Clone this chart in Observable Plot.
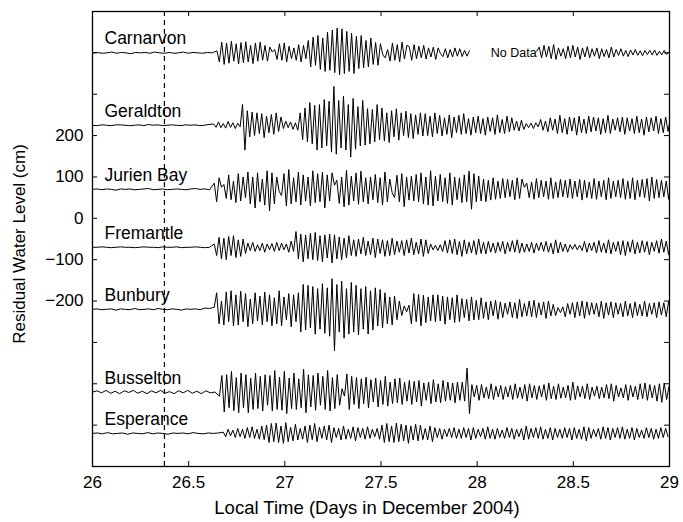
<!DOCTYPE html>
<html><head><meta charset="utf-8">
<script src="https://cdn.jsdelivr.net/npm/d3@7"></script>
<script src="https://cdn.jsdelivr.net/npm/@observablehq/plot@0.6"></script>
<style>
body{margin:0;background:#fff;}
svg{font-family:"Liberation Sans",Arial,Helvetica,sans-serif;}
</style>
</head><body><div id="chart"></div>
<script>
// ---- data (cm, relative to each station's plotting offset) ----
const stations = ["Carnarvon","Geraldton","Jurien Bay","Fremantle","Bunbury","Busselton","Esperance"];
const offsets  = [400, 225, 70, -70, -220, -420, -520];
const onsets   = [26.647, 26.63, 26.633, 26.633, 26.633, 26.66, 26.68];
const sampleStep = 0.0125; // days between successive read-off extrema
const earthquakeTime = 26.374;
const xTicks = [26, 26.5, 27, 27.5, 28, 28.5, 29];
const yTicks = [-600,-500,-400,-300,-200,-100,0,100,200,300,400,500];
const yTickLabels = [-200,-100,0,100,200];
const noData = {t: 28.19, station: "Carnarvon", text: "No Data"};
const carnarvonGap = [27.97, 28.31];

const carnarvonPre = [0,1,-1,0,2,-1,1,0,-2,1,0,1,-1,2,0,-1,1,-1,0,2,-1,1,0,-1,1,0];
const carnarvonPost = [
 5,-22,26,-28,24,-25,28,-20,22,-27,25,-24,27,-22,18,-26,24,-20,26,-18,
 18,-20,14,2,8,-16,22,-18,24,-22,16,-14,12,-18,20,-22,18,-14,30,-34,
 38,-30,42,-40,36,-45,50,-42,55,-48,60,-53,58,-50,52,-45,48,-50,40,-38,
 42,-36,30,-34,36,-28,25,-30,22,-5,-12,8,-20,24,-18,20,-22,26,-15,18,
 15,-18,20,-14,16,-12,18,-15,12,-10,14,-16,12,-2,-9,10,-12,8,-10,12,
 -8,10,-9,6,-8,5];
const carnarvonPost2 = [
 4,14,-12,18,-10,16,-14,20,-16,12,-8,10,-14,16,-12,18,-10,14,-16,12,
 -10,15,-12,10,-8,12,-14,10,-9,8,-12,14,-10,8,-6,10,-8,6,-9,7,
 -5,8,-6,5,-7,6,-4,6,-5,7,-6,4,-5,6,-4,3];

const geraldtonPre = [0,-1,1,0,-1,1,1,0,-1,0,1,-1,2,0,1,-1,0,1,0,-1,1,0,1,-1,0,2];
const geraldtonPost = [
 3,-5,8,-6,4,-7,9,-5,6,-8,5,-4,
 50,-60,35,-28,
 32,-25,30,-20,28,-30,22,-18,26,-22,30,-15,20,
 -8,10,-6,8,-10,6,-12,
 30,-35,42,-40,55,-45,48,-60,50,-55,62,-50,58,
 -65,94,-70,60,
 -55,70,-60,50,-77,65,-58,45,-50,60,-48,40,
 -45,38,-40,50,-35,42,-38,30,-42,35,-28,40,-36,30,-25,34,-30,28,-32,25,-22,30,-26,28,
 -25,22,-28,30,-20,24,-26,18,-22,25,-30,20,-18,24,-22,28,-20,16,-24,20,
 -18,22,-20,16,-24,20,-15,18,-22,25,-18,14,-20,22,-16,18,-12,10,-14,12,
 -10,4,-6,5,-8,6,-4,14,-12,10,-16,18,-12,15,-20,24,-18,16,-22,20,
 -14,18,-24,22,-18,15,-20,22,-16,20,-14,18,-22,16,-18,24,-20,15,-12,18,
 -16,20,-22,18,-14,16,-20,22,-18,15,-24,20,-16,18,-14,22,-20,16,-18,20,-15,18,-12,10,-8,5];

const jurienPre = [0,1,-1,1,0,-2,1,0,1,-1,0,1,2,-1,0,1,-1,0,1,0,-1,1,2,0,1,-1];
const jurienPost = [
 15,-30,28,5,12,-22,35,-25,20,-32,38,-28,30,-20,42,-35,30,-45,40,-30,
 25,-38,45,-52,40,-35,30,-5,-15,38,-40,48,-35,28,-30,42,-38,35,-28,30,
 -40,45,-32,38,-30,42,-45,35,-28,40,10,22,-34,30,-42,46,-38,32,-28,40,
 -36,44,-30,28,-35,30,-25,36,-32,28,-38,42,-30,25,-8,-20,34,-30,38,-42,
 30,-26,32,-28,36,-30,40,-35,30,-38,45,-40,32,-28,36,-30,28,-34,40,-38,
 30,-25,28,-32,35,-30,44,-48,38,-30,32,-28,25,-30,22,-26,28,-24,20,-22,
 26,-20,24,-18,22,-25,28,-22,25,5,15,-20,18,-24,26,-20,22,-18,20,-24,
 28,-22,18,-20,24,-18,22,-20,25,-22,20,-18,24,-26,22,-20,18,-22,26,-24,
 20,-18,22,-25,28,-22,20,-18,22,-20,26,-24,20,-22,28,-25,22,-18,24,-20,
 26,-28,30,-22,24,-20,22,-18,20,-24,22,-18];

const fremantlePre = [0,0,1,0,-1,0,1,0,0,-1,0,1,0,0,-1,1,0,0,1,-1,0,0,1,0,-1,0];
const fremantlePost = [
 8,-20,24,-28,22,-30,26,-20,28,-25,18,-22,20,-15,
 10,-8,12,-10,6,-8,10,-12,8,-6,9,-10,12,-8,10,-6,8,-12,15,-10,
 38,-28,32,-35,30,-28,34,-30,36,-32,28,-35,30,-26,32,-38,30,-28,25,-30,22,-26,28,-20,
 18,-22,20,-16,24,-20,15,-18,22,-25,20,-15,18,-22,16,-20,22,-18,15,-12,
 16,-20,18,-14,22,-18,12,-16,20,-22,18,-15,8,-6,5,-8,6,-10,16,-14,
 18,-15,20,-18,14,-22,18,-16,12,-14,16,-18,20,-15,12,-16,14,-12,10,-14,
 12,-10,14,-16,12,-10,16,-12,18,-14,10,-12,8,-10,12,-14,10,-8,12,-10,
 14,-12,10,-16,18,-14,12,-10,8,-12,6,-5,7,-6,5,-8,14,-12,10,-8,
 12,-14,16,-12,10,-14,18,-16,12,-10,14,-18,16,-20,14,-12,18,-16,12,-14,
 16,-12,14,-18,12,-10,16,-14,20,-12,15,-18,14,-10];

const bunburyPre = [0,1,-1,0,1,-2,1,0,-1,2,-1,0,1,-1,2,0,-1,1,0,-2,1,0,1,-1,3,2];
const bunburyPost = [
 5,40,-35,20,-38,42,-30,45,-40,35,-38,44,-30,38,-42,25,-35,40,-28,32,
 -38,42,-30,35,-40,28,-35,45,-40,30,-25,38,-42,35,-30,40,
 -55,60,-50,58,-45,55,-60,50,-48,62,-58,52,
 -65,74,-100,60,-55,68,-70,50,
 -60,65,-55,58,-62,50,-48,55,-60,45,-50,52,-40,48,-45,40,
 -35,30,-38,32,-25,20,-15,8,-6,10,-35,38,-30,36,-40,34,-32,30,-28,35,
 -30,35,-28,32,-36,30,-25,28,-32,35,-30,26,-20,24,-28,30,-26,22,-25,28,
 -22,18,-25,20,-16,22,-24,18,-20,15,-12,18,-20,16,-22,24,-18,14,-16,20,
 -18,22,-20,16,-14,18,-22,20,-16,12,-15,4,-8,6,-18,14,-12,16,-20,18,
 -16,20,-22,18,-14,16,-12,15,-18,20,-22,16,-14,18,-20,16,-12,14,-18,20,
 -16,14,-20,18,-15,12,-16,20,-18,14,-12,16,-20,18,-14,16,-18,20,-15,22];

const busseltonPre = [0,3,-2,4,-3,2,-4,3,-1,4,-3,2,-4,3,-2,4,-3,1,-4,3,-2,4,-3,2,-4,3,-2,0];
const busseltonPost = [
 -10,40,-48,42,-38,50,-45,35,-50,46,-38,42,-50,34,-42,46,-40,38,-46,42,
 -32,40,-46,52,-42,36,-44,50,-52,34,-40,46,-42,32,-38,55,-50,42,-36,40,
 -44,46,-32,38,-42,52,-46,35,-40,42,-32,8,-10,44,-42,38,-30,35,-40,32,
 -28,36,-38,30,-24,34,-36,28,-30,38,-34,24,-28,32,-26,34,-30,24,-22,28,
 -30,26,-24,28,-34,22,-20,24,-28,30,-24,20,-26,28,-22,24,-20,22,-26,24,
 -20,24,-22,58,-52,18,-12,16,-20,18,-14,12,-16,20,-18,14,-12,16,-18,13,
 -12,16,-18,20,-15,12,-16,18,-22,20,-14,16,-18,15,-12,18,-20,22,-16,14,
 -18,20,-15,12,-14,16,-20,24,-18,15,-12,14,-16,20,-18,12,-10,14,-16,12,
 -14,18,-16,20,-22,16,-12,10,-14,18,-20,16,-12,14,-18,20,-16,22,-20,18,
 -14,16,-22,20,-25,22,-18,14];

const esperancePre = [0,1,-1,2,-1,0,1,-2,1,0,-1,2,-1,1,0,-2,1,0,1,-1,2,0,-1,1,0,1];
const esperancePost = [
 3,-8,10,-6,8,-10,12,-8,10,-12,14,-10,16,-12,10,-14,18,-15,20,-22,
 24,-20,25,-22,18,-24,26,-20,15,-18,22,-16,12,-14,18,-22,20,-15,24,-20,
 15,-12,18,-16,20,-22,14,-10,12,-16,18,-14,10,-12,16,-18,14,-10,12,-14,
 16,-12,10,-8,12,-14,20,-22,24,-20,18,-22,25,-20,22,-18,20,-24,18,-16,
 22,-18,20,-15,12,-16,18,-20,14,-10,12,-14,10,-8,12,-10,14,-12,10,-12,
 14,-10,12,-16,14,-12,10,-8,12,-14,16,-12,10,-14,12,-10,8,-12,14,-10,
 12,-14,10,-8,12,-16,18,-14,12,-10,14,-12,16,-14,10,-12,14,-16,12,-10,
 10,-12,14,-10,12,-16,14,-12,10,-14,16,-18,14,-12,10,-8,12,-14,16,-12,
 14,-16,12,-10,14,-12,16,-14,10,-12,14,-16,12,-10,8,-12,14,-10,12,-14,
 10,-12,14,-10,12,-8];

const preSeries  = [carnarvonPre, geraldtonPre, jurienPre, fremantlePre, bunburyPre, busseltonPre, esperancePre];
const postSeries = [carnarvonPost, geraldtonPost, jurienPost, fremantlePost, bunburyPost, busseltonPost, esperancePost];

// ---- build table ----
const rows = [];
stations.forEach((s, i) => {
  const off = offsets[i], pre = preSeries[i], post = postSeries[i], on = onsets[i];
  const step = (on - 26) / pre.length;
  pre.forEach((v, j) => rows.push({station: s, t: 26 + j * step, y: off + v}));
  post.forEach((v, k) => rows.push({station: s, t: on + k * sampleStep, y: off + v}));
  if (s === "Carnarvon") {
    rows.push({station: s, t: carnarvonGap[0] + 0.001, y: null});
    carnarvonPost2.forEach((v, k) => rows.push({station: s, t: carnarvonGap[1] + k * sampleStep, y: off + v}));
  }
});
const labels = stations.map((s, i) => ({station: s, y: offsets[i]}));

const fmt = d => d === 0 ? "0" : (d < 0 ? "\u2212" + Math.abs(d) : String(d));

const W = 683, H = 522, mL = 92, mR = 14, mT = 11, mB = 56, tick = 5;
const innerW = W - mL - mR, innerH = H - mT - mB;

const chart = Plot.plot({
  width: W,
  height: H,
  marginLeft: mL,
  marginRight: mR,
  marginTop: mT,
  marginBottom: mB,
  style: {fontSize: "16px", fontFamily: "'Liberation Sans', Arial, sans-serif", color: "black", background: "white"},
  x: {domain: [26, 29]},
  y: {domain: [-600, 500]},
  marks: [
    Plot.ruleX([earthquakeTime], {stroke: "black", strokeWidth: 1.2, strokeDasharray: "5,4"}),
    Plot.line(rows, {x: "t", y: "y", z: "station", stroke: "black", strokeWidth: 1, curve: "linear", clip: true}),
    Plot.text(labels, {frameAnchor: "left", y: "y", text: "station", dx: 12, dy: -14, textAnchor: "start", fontSize: 17.5, fill: "black"}),
    Plot.text([noData], {x: "t", y: () => offsets[0], text: "text", fontSize: 12.5, fill: "black"}),
    // inward ticks on all four sides
    Plot.tickX(xTicks, {x: d => d, insetTop: innerH - tick, stroke: "black", strokeWidth: 1}),
    Plot.tickX(xTicks, {x: d => d, insetBottom: innerH - tick, stroke: "black", strokeWidth: 1}),
    Plot.tickY(yTicks, {y: d => d, insetRight: innerW - tick, stroke: "black", strokeWidth: 1}),
    Plot.tickY(yTicks, {y: d => d, insetLeft: innerW - tick, stroke: "black", strokeWidth: 1}),
    Plot.axisX(xTicks, {anchor: "bottom", tickSize: 0, tickPadding: 9, tickFormat: d => String(d), fontSize: 17, label: null}),
    Plot.axisY(yTickLabels, {anchor: "left", tickSize: 0, tickPadding: 9, tickFormat: fmt, fontSize: 17, label: null}),
    Plot.frame({stroke: "black", strokeWidth: 1.3}),
    Plot.text(["Local Time (Days in December 2004)"], {frameAnchor: "bottom", dx: -14, dy: 42, text: d => d, fontSize: 18.5, fill: "black", lineAnchor: "middle", textAnchor: "middle"}),
    Plot.text(["Residual Water Level (cm)"], {frameAnchor: "left", dx: -73, dy: 5, rotate: -90, text: d => d, fontSize: 17, fill: "black", lineAnchor: "middle", textAnchor: "middle"})
  ]
});
document.getElementById("chart").appendChild(chart);
</script>
</body></html>
